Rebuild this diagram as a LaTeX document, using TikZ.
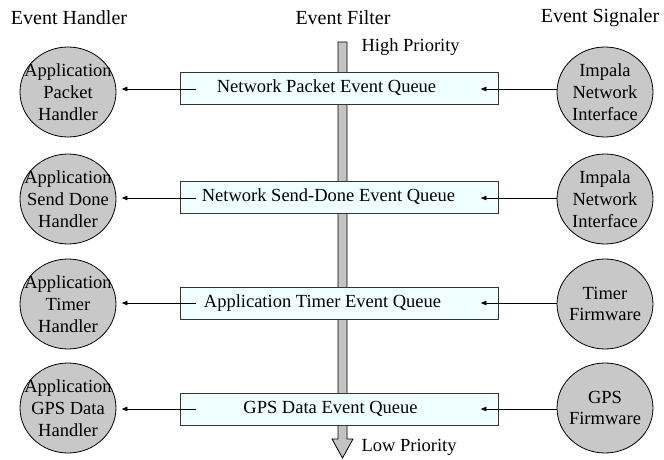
\documentclass[tikz,border=0pt]{standalone}
\usepackage{fontspec}
\setmainfont{Liberation Serif}
\usetikzlibrary{shapes.geometric,arrows.meta}
\definecolor{qfill}{RGB}{240,255,255}
\definecolor{cfill}{RGB}{200,200,200}
\definecolor{bfill}{RGB}{195,195,195}
\tikzset{
  txt/.style={font=\fontsize{18.5}{21.7}\selectfont},
  htxt/.style={font=\fontsize{20}{24}\selectfont},
  bubble/.style={ellipse,draw=black,line width=0.8pt,fill=cfill,minimum width=96pt,minimum height=90pt,inner sep=0pt},
  blabel/.style={txt,align=center,inner sep=0pt},
  queue/.style={rectangle,draw=black!80,line width=0.8pt,fill=qfill,minimum width=318pt,minimum height=32pt,inner sep=0pt},
  conn/.style={line width=0.6pt,-{Latex[length=6pt,width=5pt]}}
}
\begin{document}
\begin{tikzpicture}[x=1pt,y=-1pt]
\useasboundingbox (0,0) rectangle (664,460);
% headers
\node[htxt] (hh) at (69,18) {Event Handler};
\node[htxt] (hf) at (343,18) {Event Filter};
\node[htxt] (hs) at (600,18) {Event Signaler};
% priority bar
\filldraw[fill=bfill,draw=black,line width=0.8pt] (338,42) -- (347,42) -- (347,439) -- (353,439) -- (342.5,458) -- (332,439) -- (338,439) -- cycle;
\node[txt,anchor=west] (hp) at (358,47) {High Priority};
\node[txt,anchor=west] (lp) at (358,447) {Low Priority};
% queues
\node[queue,label={[txt,xshift=-12.5pt]center:Network Packet Event Queue}] (q1) at (339,88) {};
\node[queue,label={[txt,xshift=-10.5pt]center:Network Send-Done Event Queue}] (q2) at (339,197) {};
\node[queue,label={[txt,xshift=-16.5pt]center:Application Timer Event Queue}] (q3) at (339,303) {};
\node[queue,label={[txt,xshift=-8.5pt]center:GPS Data Event Queue}] (q4) at (339,409) {};
% handlers
\node[bubble,label={[blabel]center:Application\\Packet\\Handler}] (h1) at (68,92) {};
\node[bubble,label={[blabel]center:Application\\Send Done\\Handler}] (h2) at (68,199) {};
\node[bubble,label={[blabel]center:Application\\Timer\\Handler}] (h3) at (68,304) {};
\node[bubble,label={[blabel]center:Application\\GPS Data\\Handler}] (h4) at (68,408) {};
% signalers
\node[bubble,label={[blabel]center:Impala\\Network\\Interface}] (s1) at (605,92) {};
\node[bubble,label={[blabel]center:Impala\\Network\\Interface}] (s2) at (605,199) {};
\node[bubble,label={[blabel]center:Timer\\Firmware}] (s3) at (605,304) {};
\node[bubble,label={[blabel]center:GPS\\Firmware}] (s4) at (605,408) {};
% connectors
\foreach \i/\y in {1/89,2/198,3/303,4/409}{
  \draw[conn] ([xshift=16pt]q\i.west |- 0,\y) -- ([xshift=5pt]h\i.east |- 0,\y);
  \draw[conn] (s\i.west |- 0,\y) -- ([xshift=-18pt]q\i.east |- 0,\y);
}
\end{tikzpicture}
\end{document}
